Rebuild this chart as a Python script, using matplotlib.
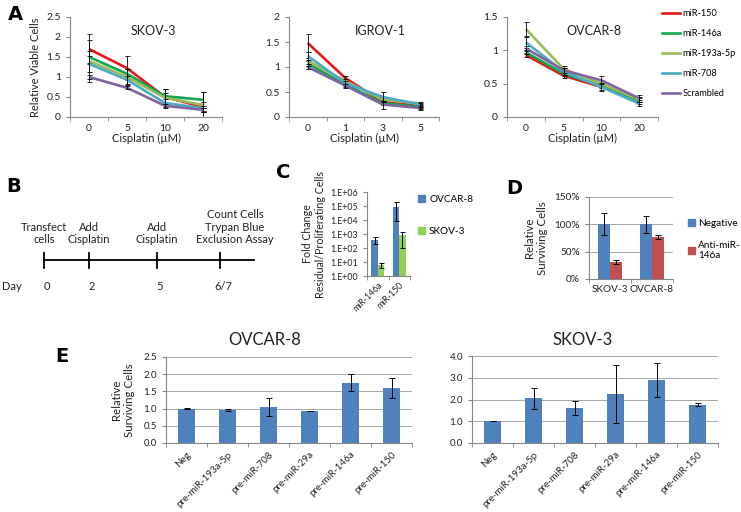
import matplotlib
matplotlib.use('Agg')
import matplotlib.pyplot as plt
import numpy as np
from matplotlib.lines import Line2D
from matplotlib.patches import Patch

plt.rcParams['font.family'] = ['Lato', 'DejaVu Sans']

W, H = 741, 512

# ---- panel A data ----
mir_names = ['miR-150', 'miR-146a', 'miR-193a-5p', 'miR-708', 'Scrambled']
line_colors = ['#E3191C', '#12A650', '#9BBB59', '#4BACC6', '#8064A2']

skov_doses = ['0', '5', '10', '20']
skov_vals = [[1.70, 1.22, 0.50, 0.25],
             [1.50, 1.08, 0.52, 0.43],
             [1.40, 1.00, 0.48, 0.30],
             [1.33, 0.93, 0.35, 0.22],
             [1.00, 0.73, 0.28, 0.18]]
skov_errs = [[0.37, 0.30, 0.20, 0.12],
             [0.15, 0.12, 0.18, 0.20],
             [0.53, 0.20, 0.12, 0.33],
             [0.20, 0.10, 0.10, 0.06],
             [0.05, 0.04, 0.05, 0.05]]

igrov_doses = ['0', '1', '3', '5']
igrov_vals = [[1.48, 0.78, 0.30, 0.22],
              [1.07, 0.65, 0.28, 0.20],
              [1.12, 0.72, 0.35, 0.27],
              [1.22, 0.68, 0.40, 0.25],
              [1.00, 0.63, 0.25, 0.18]]
igrov_errs = [[0.18, 0.05, 0.05, 0.04],
              [0.05, 0.04, 0.04, 0.03],
              [0.05, 0.04, 0.05, 0.03],
              [0.08, 0.05, 0.10, 0.04],
              [0.03, 0.04, 0.08, 0.03]]

ovcar_doses = ['0', '5', '10', '20']
ovcar_vals = [[0.93, 0.62, 0.45, 0.25],
              [0.97, 0.65, 0.47, 0.23],
              [1.32, 0.72, 0.50, 0.26],
              [1.12, 0.68, 0.45, 0.20],
              [1.03, 0.70, 0.55, 0.28]]
ovcar_errs = [[0.03, 0.04, 0.04, 0.03],
              [0.03, 0.04, 0.04, 0.03],
              [0.10, 0.05, 0.05, 0.04],
              [0.08, 0.05, 0.06, 0.03],
              [0.04, 0.04, 0.06, 0.05]]

# ---- panel B data ----
timeline_days = ['0', '2', '5', '6/7']
timeline_events = ['Transfect\ncells', 'Add\nCisplatin', 'Add\nCisplatin',
                   'Count Cells\nTrypan Blue\nExclusion Assay']

# ---- panel C data ----
c_cats = ['miR-146a', 'miR-150']
c_ovcar = [400, 90000]
c_ovcar_low = [200, 8000]
c_ovcar_high = [650, 180000]
c_skov = [6, 800]
c_skov_low = [4, 100]
c_skov_high = [8, 1400]
c_tick_labels = ['1.E+00', '1.E+01', '1.E+02', '1.E+03', '1.E+04', '1.E+05', '1.E+06']

# ---- panel D data ----
d_cats = ['SKOV-3', 'OVCAR-8']
d_neg = [1.00, 1.00]
d_neg_err = [0.20, 0.15]
d_anti = [0.31, 0.77]
d_anti_err = [0.04, 0.03]
d_tick_labels = ['0%', '50%', '100%', '150%']

# ---- panel E data ----
e_cats = ['Neg', 'pre-miR-193a-5p', 'pre-miR-708', 'pre-miR-29a', 'pre-miR-146a', 'pre-miR-150']
e_ovcar = [1.00, 0.95, 1.05, 0.93, 1.75, 1.60]
e_ovcar_err = [0.01, 0.03, 0.27, 0.01, 0.25, 0.30]
e_skov = [1.00, 2.05, 1.60, 2.25, 2.90, 1.77]
e_skov_err = [0.01, 0.48, 0.33, 1.32, 0.77, 0.09]

BLUE = '#4F81BD'
GREEN = '#92D050'
RED = '#C0504D'
AXC = '#868686'
TXT = '#222222'


def box(l, t, r, b):
    return [l / W, 1 - b / H, (r - l) / W, (b - t) / H]


def style_axes(ax, ncat, tick_size):
    for s in ['top', 'right']:
        ax.spines[s].set_visible(False)
    for s in ['left', 'bottom']:
        ax.spines[s].set_color(AXC)
        ax.spines[s].set_linewidth(0.8)
    ax.set_xlim(-0.5, ncat - 0.5)
    ax.set_xticks(np.arange(ncat + 1) - 0.5, minor=True)
    ax.tick_params(axis='x', which='major', length=0, labelsize=tick_size, colors=TXT)
    ax.tick_params(axis='x', which='minor', length=3, color=AXC, direction='out')
    ax.tick_params(axis='y', length=3, color=AXC, labelsize=tick_size, labelcolor=TXT)


fig = plt.figure(figsize=(W / 100, H / 100), dpi=100)

# ---------------- panel A ----------------
def line_panel(rect, doses, vals, errs, ymax, ystep, title, title_x, ylabel=None):
    ax = fig.add_axes(box(*rect))
    x = np.arange(len(doses))
    for v, e, c in zip(vals, errs, line_colors):
        ax.plot(x, v, color=c, lw=1.9, solid_capstyle='butt')
        ax.errorbar(x, v, yerr=e, fmt='none', ecolor='black', elinewidth=0.6,
                    capsize=1.8, capthick=0.6)
    style_axes(ax, len(doses), 7.5)
    ax.set_xticks(x, doses)
    ax.tick_params(axis='x', which='major', pad=5)
    ax.set_ylim(0, ymax)
    yt = np.arange(0, ymax + 1e-9, ystep)
    ax.set_yticks(yt, ['%g' % t for t in yt])
    ax.set_xlabel('Cisplatin (\u00b5M)', fontsize=8, color=TXT, labelpad=0)
    if ylabel:
        ax.set_ylabel(ylabel, fontsize=8, color=TXT, labelpad=4)
    fig.text(title_x / W, 1 - 31 / H, title, fontsize=9, color=TXT, ha='center', va='center')
    return ax

line_panel((70, 17, 222, 117), skov_doses, skov_vals, skov_errs, 2.5, 0.5, 'SKOV-3', 153,
           ylabel='Relative Viable Cells')
line_panel((289, 17, 439, 117), igrov_doses, igrov_vals, igrov_errs, 2.0, 0.5, 'IGROV-1', 380)
line_panel((507, 17, 658, 117), ovcar_doses, ovcar_vals, ovcar_errs, 1.5, 0.5, 'OVCAR-8', 594)

handles = [Line2D([0], [0], color=c, lw=1.9) for c in line_colors]
fig.legend(handles, mir_names, loc='upper left', bbox_to_anchor=(662 / W, 1 - 9 / H),
           frameon=False, fontsize=6.6, handlelength=2.0, handletextpad=0.2,
           labelspacing=1.2, borderaxespad=0, borderpad=0)

# ---------------- panel B ----------------
axb = fig.add_axes(box(0, 195, 280, 300))
axb.set_xlim(0, 280)
axb.set_ylim(300, 195)
axb.axis('off')
tl_x = [44, 89, 157, 220]
axb.plot([44, 254], [260, 260], color='black', lw=1.3)
for xi, day, ev in zip(tl_x, timeline_days, timeline_events):
    axb.plot([xi, xi], [253, 268], color='black', lw=1.3)
    axb.text(xi + 3, 286, day, ha='center', va='center', fontsize=8, color=TXT)
    axb.text(xi + (15 if ev.startswith('Count') else 0), 245, ev, ha='center', va='bottom',
             fontsize=8, color=TXT, linespacing=1.15)
axb.text(12, 286, 'Day', ha='center', va='center', fontsize=8, color=TXT)

# ---------------- panel C ----------------
axc = fig.add_axes(box(367, 192, 410, 276))
xc = np.arange(len(c_cats))
w = 0.3
axc.set_yscale('log')
axc.bar(xc - w / 2, c_ovcar, w, color=BLUE,
        yerr=[np.subtract(c_ovcar, c_ovcar_low), np.subtract(c_ovcar_high, c_ovcar)],
        error_kw=dict(elinewidth=0.7, capsize=1.8, capthick=0.7, ecolor='black'))
axc.bar(xc + w / 2, c_skov, w, color=GREEN,
        yerr=[np.subtract(c_skov, c_skov_low), np.subtract(c_skov_high, c_skov)],
        error_kw=dict(elinewidth=0.7, capsize=1.8, capthick=0.7, ecolor='black'))
style_axes(axc, len(c_cats), 6.3)
axc.set_ylim(1, 1e6)
axc.set_yticks(10.0 ** np.arange(7), c_tick_labels)
axc.yaxis.set_minor_locator(matplotlib.ticker.NullLocator())
axc.set_xticks(xc, c_cats, rotation=45, ha='right', rotation_mode='anchor')
axc.tick_params(axis='x', which='major', pad=3)
axc.set_ylabel('Fold Change\nResidual/Proliferating Cells', fontsize=7.7, color=TXT, labelpad=3)
fig.legend([Patch(color=BLUE), Patch(color=GREEN)], ['OVCAR-8', 'SKOV-3'], loc='upper left',
           bbox_to_anchor=(418 / W, 1 - 195 / H), frameon=False, fontsize=7.2,
           handlelength=0.7, handleheight=0.7, handletextpad=0.4, labelspacing=2.3,
           borderaxespad=0, borderpad=0)

# ---------------- panel D ----------------
axd = fig.add_axes(box(589, 197, 673, 279))
xd = np.arange(len(d_cats))
w = 0.29
axd.set_axisbelow(True)
axd.yaxis.grid(True, color='#A6A6A6', lw=0.7)
axd.bar(xd - w / 2, d_neg, w, color=BLUE, yerr=d_neg_err,
        error_kw=dict(elinewidth=0.7, capsize=2, capthick=0.7, ecolor='black'))
axd.bar(xd + w / 2, d_anti, w, color=RED, yerr=d_anti_err,
        error_kw=dict(elinewidth=0.7, capsize=2, capthick=0.7, ecolor='black'))
style_axes(axd, len(d_cats), 7.2)
axd.set_ylim(0, 1.5)
axd.set_yticks([0, 0.5, 1.0, 1.5], d_tick_labels)
axd.set_xticks(xd, d_cats)
axd.tick_params(axis='x', which='major', pad=4)
axd.set_ylabel('Relative\nSurviving Cells', fontsize=8.3, color=TXT, labelpad=5)
fig.legend([Patch(color=BLUE), Patch(color=RED)], ['Negative', 'Anti-miR-\n146a'],
           loc='upper left', bbox_to_anchor=(688 / W, 1 - 219 / H), frameon=False, fontsize=7.2,
           handlelength=0.7, handleheight=0.7, handletextpad=0.3, labelspacing=1.3,
           borderaxespad=0, borderpad=0)

# ---------------- panel E ----------------
def bar_panel(rect, vals, errs, ymax, ystep, title, title_x, ylabel=None):
    ax = fig.add_axes(box(*rect))
    x = np.arange(len(e_cats))
    ax.set_axisbelow(True)
    ax.yaxis.grid(True, color='#A6A6A6', lw=0.7)
    ax.bar(x, vals, 0.4, color=BLUE, yerr=errs,
           error_kw=dict(elinewidth=0.7, capsize=2.2, capthick=0.7, ecolor='black'))
    style_axes(ax, len(e_cats), 7)
    ax.set_ylim(0, ymax)
    yt = np.arange(0, ymax + 1e-9, ystep)
    ax.set_yticks(yt, ['%.1f' % t for t in yt])
    ax.set_xticks(x, e_cats, rotation=45, ha='right', rotation_mode='anchor')
    ax.tick_params(axis='x', which='major', pad=5)
    if ylabel:
        ax.set_ylabel(ylabel, fontsize=8.3, color=TXT, labelpad=6)
    fig.text(title_x / W, 1 - 340 / H, title, fontsize=12, color=TXT, ha='center', va='center')
    return ax

bar_panel((166, 357, 412, 443), e_ovcar, e_ovcar_err, 2.5, 0.5, 'OVCAR-8', 265,
          ylabel='Relative\nSurviving Cells')
bar_panel((472, 356, 718, 443), e_skov, e_skov_err, 4.0, 1.0, 'SKOV-3', 583)

# ---------------- panel letters ----------------
for letter, lx, ly in [('A', 15, 15), ('B', 14, 187), ('C', 283, 173), ('D', 514, 188), ('E', 62, 357)]:
    fig.text(lx / W, 1 - ly / H, letter, fontsize=14, fontweight='bold', family='DejaVu Sans',
             ha='center', va='center', color='black')

fig.savefig('out.png', dpi=100)
